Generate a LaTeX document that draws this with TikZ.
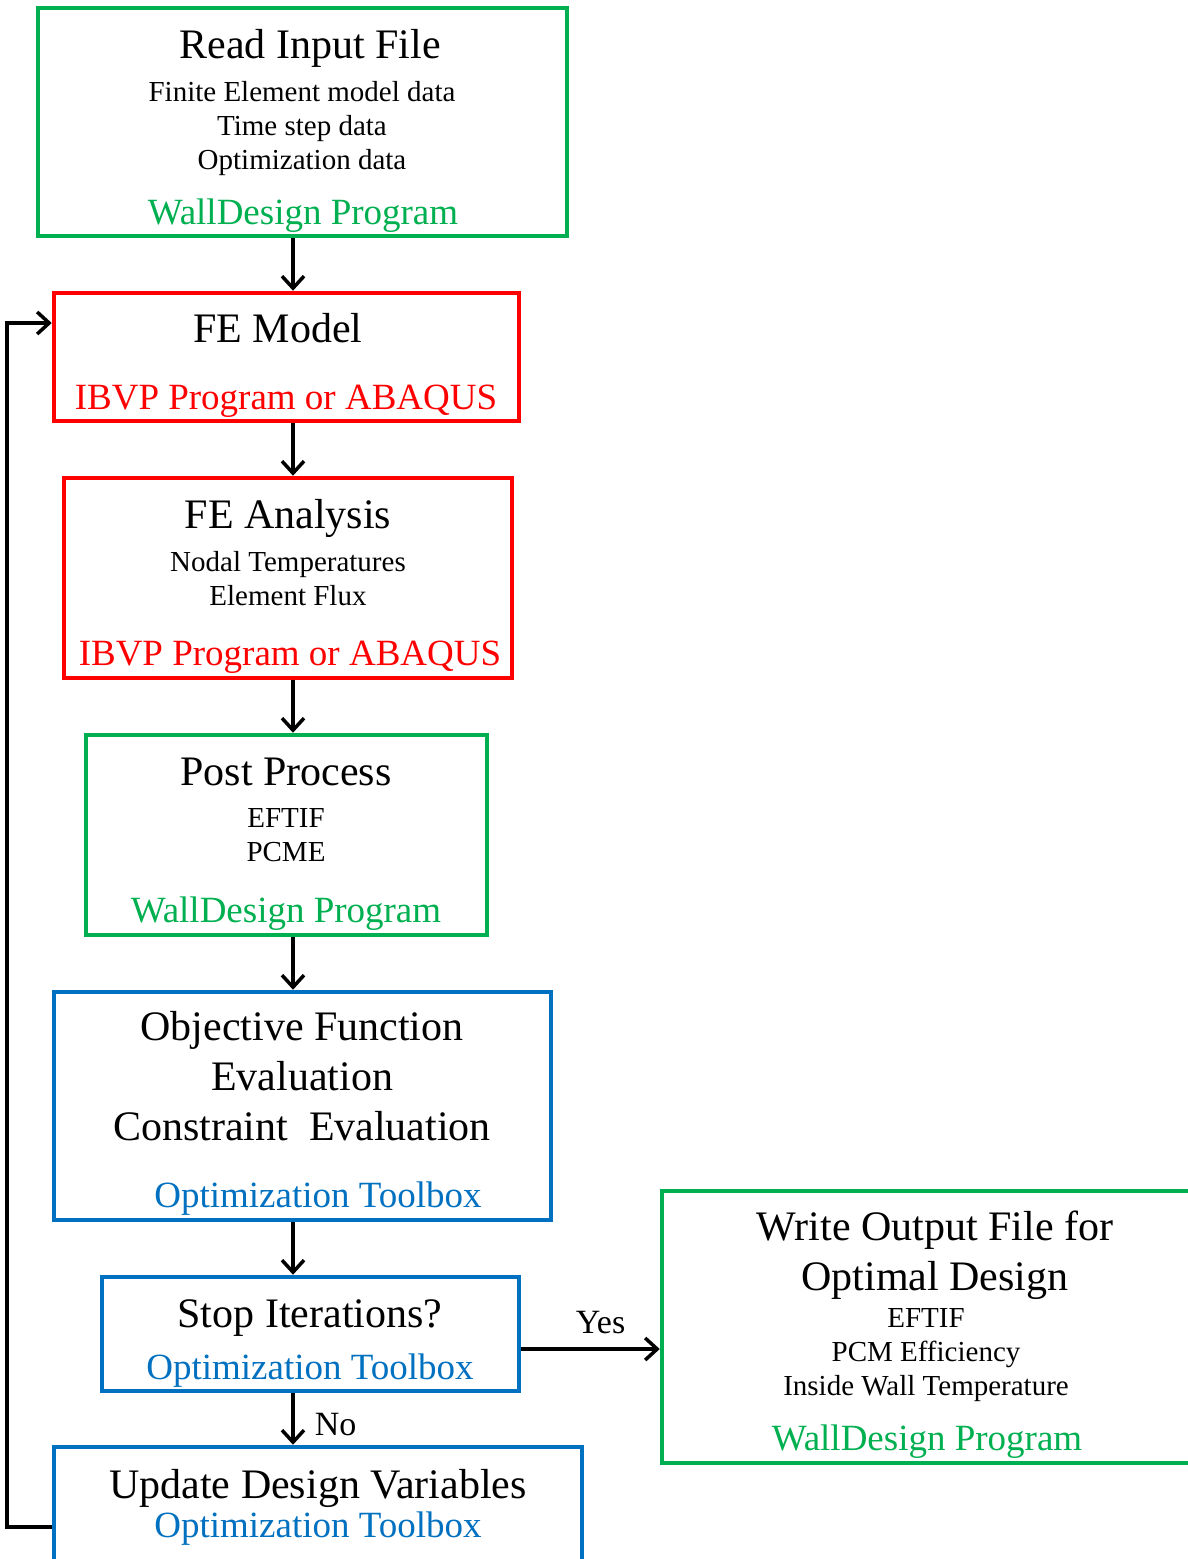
\documentclass[tikz,border=0pt]{standalone}
\usepackage{fontspec}
\setmainfont{Liberation Serif}
\usetikzlibrary{arrows.meta}
\definecolor{wdgreen}{RGB}{0,176,80}
\definecolor{ibred}{RGB}{255,0,0}
\definecolor{otblue}{RGB}{0,112,192}

\begin{document}
\begin{tikzpicture}[x=1pt, y=-1pt,
		box/.style={draw, line width=4.5pt, inner sep=0pt},
		gbox/.style={box, draw=wdgreen},
		rbox/.style={box, draw=ibred},
		bbox/.style={box, draw=otblue},
		head/.style={anchor=base, align=center, inner sep=0pt, font=\fontsize{42}{50}\selectfont},
		sub/.style={anchor=base, align=center, inner sep=0pt, font=\fontsize{29}{34}\selectfont},
		prog/.style={anchor=base, inner sep=0pt, font=\fontsize{37}{42}\selectfont},
		lbl/.style={inner sep=0pt, font=\fontsize{34}{40}\selectfont},
		arr/.style={line width=3.5pt, -{Straight Barb[length=12pt, width=22pt]}}]
			%%%%% START %%%%%
			
			\useasboundingbox (0,0) rectangle (1188,1559);
			\clip (0,0) rectangle (1188,1559);
			
			% multi-line texts sit on the baseline of their last line
			\node[gbox, minimum width=529, minimum height=228] (read) at (302.5,122) {};
			\node[head] (readT) at (310,58) {Read Input File};
			\node[sub] (readS) at (302,169) {Finite Element model data\\Time step data\\Optimization data};
			\node[prog, text=wdgreen] (readP) at (303,224) {WallDesign Program};
			
			\node[rbox, minimum width=465, minimum height=128] (model) at (286.5,357) {};
			\node[head] (modelT) at (278,342) {FE Model};
			\node[prog, text=ibred] (modelP) at (286,409) {IBVP Program or ABAQUS};
			
			\node[rbox, minimum width=448, minimum height=200] (analysis) at (288,578) {};
			\node[head] (analysisT) at (288,528) {FE Analysis};
			\node[sub] (analysisS) at (288,605) {Nodal Temperatures\\Element Flux};
			\node[prog, text=ibred] (analysisP) at (290,665) {IBVP Program or ABAQUS};
			
			\node[gbox, minimum width=401, minimum height=200] (post) at (286.5,835) {};
			\node[head] (postT) at (286,785) {Post Process};
			\node[sub] (postS) at (286,861) {EFTIF\\PCME};
			\node[prog, text=wdgreen] (postP) at (286,922) {WallDesign Program};
			
			\node[bbox, minimum width=497, minimum height=228] (objective) at (302.5,1106) {};
			\node[head] (objectiveT) at (302,1140) {Objective Function\\Evaluation\\Constraint~ Evaluation};
			\node[prog, text=otblue] (objectiveP) at (318,1207) {Optimization Toolbox};
			
			\node[bbox, minimum width=417, minimum height=114] (stop) at (310.5,1334) {};
			\node[head] (stopT) at (310,1327) {Stop Iterations?};
			\node[prog, text=otblue] (stopP) at (310,1379) {Optimization Toolbox};
			
			\node[bbox, minimum width=528, minimum height=160] (update) at (318,1527) {};
			\node[head] (updateT) at (318,1498) {Update Design Variables};
			\node[prog, text=otblue] (updateP) at (318,1537) {Optimization Toolbox};
			
			\node[gbox, minimum width=538, minimum height=272] (write) at (931,1327) {};
			\node[head] (writeT) at (935,1290) {Write Output File for\\Optimal Design};
			\node[sub] (writeS) at (926,1395) {EFTIF\\PCM Efficiency\\Inside Wall Temperature};
			\node[prog, text=wdgreen] (writeP) at (927,1450) {WallDesign Program};
			
			% main line
			\coordinate (spine) at (293,0);
			\draw[arr] (spine |- read.south) -- (spine |- model.north);
			\draw[arr] (spine |- model.south) -- (spine |- analysis.north);
			\draw[arr] (spine |- analysis.south) -- (spine |- post.north);
			\draw[arr] (spine |- post.south) -- (spine |- objective.north);
			\draw[arr] (spine |- objective.south) -- (spine |- stop.north);
			\draw[arr] (spine |- stop.south) -- (spine |- update.north) node[midway, right=20pt, yshift=-6pt, lbl] (no) {No};
			
			\draw[arr] ([yshift=-15pt]stop.east) -- ([yshift=-15pt]stop.east -| write.west) node[midway, above=13pt, xshift=10pt, lbl] (yes) {Yes};
			
			% loop back
			\draw[arr] (update.west) -- ++(-45,0) |- ([yshift=34pt]model.west);
			
			%%%%% END %%%%%
\end{tikzpicture}
\end{document}
